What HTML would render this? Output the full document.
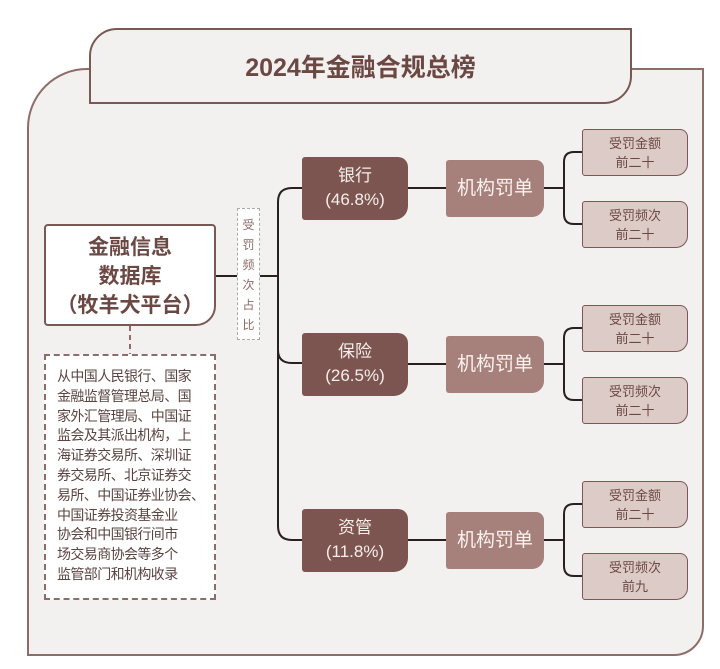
<!DOCTYPE html>
<html><head><meta charset="utf-8"><style>
body{margin:0;width:720px;height:669px;background:#fff;position:relative;overflow:hidden;font-family:"Liberation Sans","Noto Sans CJK SC",sans-serif;}
.a{position:absolute;box-sizing:border-box;}
.frame{left:27px;top:68px;width:677px;height:588px;background:#f3f1ef;border:2px solid #8e6d68;border-top-left-radius:60px;border-bottom-right-radius:30px;}
.tab{left:89px;top:28px;width:543px;height:76px;background:#f3f1ef;border:2px solid #7a5853;border-top-left-radius:28px;border-bottom-right-radius:28px;color:#6b4843;font-weight:bold;font-size:25px;text-align:center;line-height:76px;}
.src{left:44px;top:224px;width:172px;height:102px;background:#fff;border:2px solid #7a5853;border-radius:4px 4px 20px 4px;color:#6b4843;font-weight:bold;font-size:21px;text-align:center;line-height:29px;padding-top:7px;}
.dash{left:44px;top:354px;width:172px;height:246px;border:2px dashed #8e6d68;background:#fff;color:#5a4441;font-size:14px;letter-spacing:-0.6px;white-space:nowrap;line-height:19.8px;padding:11px 0 0 11px;}
.vl{left:237px;top:208px;width:23px;height:132px;border:1px dashed #aaa;background:#fff;color:#8a6d68;font-size:12px;line-height:20px;text-align:center;padding-top:6px;}
.dk{width:106px;height:63px;background:#7d5550;border-radius:3px 10px 14px 3px;color:#f6eeea;text-align:center;font-size:17px;line-height:24px;padding-top:7px;}
.md{left:446px;width:98px;height:57px;background:#a6807b;border-radius:3px 8px 12px 3px;color:#fbf2ef;text-align:center;font-size:19px;line-height:57px;}
.lf{left:582px;width:106px;height:47px;background:#ddcbc8;border:1.5px solid #7a5853;border-radius:3px 8px 12px 3px;color:#6b4843;text-align:center;font-size:13px;line-height:19px;padding-top:4px;}
</style></head><body>
<div class="a frame"></div>
<div class="a tab">2024年金融合规总榜</div>
<svg class="a" style="left:0;top:0" width="720" height="669">
<g fill="none" stroke="#2a2020" stroke-width="2">
<line x1="216" y1="276" x2="278" y2="276"/>
<path d="M302 188 H292 Q278 188 278 202 V526 Q278 540 292 540 H302"/>
<path d="M278 350 Q278 363 292 363 H302"/>
<line x1="408" y1="188" x2="446" y2="188"/><line x1="408" y1="364" x2="446" y2="364"/><line x1="408" y1="540" x2="446" y2="540"/>
<g id="b"><line x1="544" y1="188" x2="564" y2="188"/><path d="M582 152 H574 Q564 152 564 162 V214 Q564 224 574 224 H582"/></g>
<use href="#b" y="176"/><use href="#b" y="352"/>
</g>
<line x1="130" y1="326" x2="130" y2="354" stroke="#8e6d68" stroke-width="2" stroke-dasharray="5,4"/>
</svg>
<div class="a src">金融信息<br>数据库<br>（牧羊犬平台）</div>
<div class="a dash">从中国人民银行、国家<br>金融监督管理总局、国<br>家外汇管理局、中国证<br>监会及其派出机构，上<br>海证券交易所、深圳证<br>券交易所、北京证券交<br>易所、中国证券业协会、<br>中国证券投资基金业<br>协会和中国银行间市<br>场交易商协会等多个<br>监管部门和机构收录</div>
<div class="a vl">受<br>罚<br>频<br>次<br>占<br>比</div>
<div class="a dk" style="left:302px;top:157px">银行<br>(46.8%)</div>
<div class="a dk" style="left:302px;top:333px">保险<br>(26.5%)</div>
<div class="a dk" style="left:302px;top:509px">资管<br>(11.8%)</div>
<div class="a md" style="top:160px">机构罚单</div>
<div class="a md" style="top:336px">机构罚单</div>
<div class="a md" style="top:512px">机构罚单</div>
<div class="a lf" style="top:129px">受罚金额<br>前二十</div>
<div class="a lf" style="top:201px">受罚频次<br>前二十</div>
<div class="a lf" style="top:305px">受罚金额<br>前二十</div>
<div class="a lf" style="top:377px">受罚频次<br>前二十</div>
<div class="a lf" style="top:481px">受罚金额<br>前二十</div>
<div class="a lf" style="top:553px">受罚频次<br>前九</div>
</body></html>
